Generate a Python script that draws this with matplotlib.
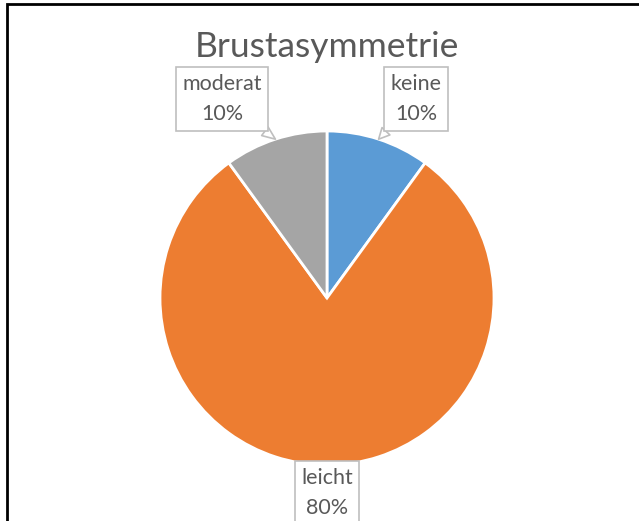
import matplotlib
matplotlib.use('Agg')
import matplotlib.pyplot as plt
import numpy as np

# data
labels = ['keine', 'leicht', 'moderat']
values = [10, 80, 10]
colors = ['#5B9BD5', '#ED7D31', '#A5A5A5']
title = 'Brustasymmetrie'

plt.rcParams['font.family'] = ['Lato', 'DejaVu Sans']

W, H = 639, 521
fig = plt.figure(figsize=(W / 100, H / 100), dpi=100)
ax = fig.add_axes([0, 0, 1, 1])

# outer frame (cut off at right and bottom like the screenshot)
fig.patches.append(plt.Rectangle((7 / W, -0.05), 1.1, (H - 4) / H + 0.05,
                                 transform=fig.transFigure, fill=False,
                                 edgecolor='black', linewidth=2))

cx, cy, r = 327, H - 298, 167
wedges, _ = ax.pie(values, colors=colors, startangle=90, counterclock=False,
                   center=(cx, cy), radius=r, frame=True,
                   wedgeprops=dict(edgecolor='white', linewidth=2))
ax.set_xlim(0, W)
ax.set_ylim(0, H)
ax.axis('off')

ax.text(cx, H - 47, title, ha='center', va='center', fontsize=25.5, color='#595959')

# label callouts: box centres (px)
label_pos = [(416, H - 99), (327, H - 493), (222, H - 99)]
total = sum(values)
for w, lab, v, (lx, ly) in zip(wedges, labels, values, label_pos):
    mid = np.deg2rad((w.theta1 + w.theta2) / 2)
    px = cx + r * np.cos(mid)
    py = cy + r * np.sin(mid)
    ax.annotate(f'{lab}\n{v / total:.0%}', xy=(px, py), xytext=(lx, ly),
                ha='center', va='center', fontsize=15.5, color='#595959',
                linespacing=1.65,
                bbox=dict(boxstyle='square,pad=0.3', fc='white', ec='#BFBFBF', lw=1.2),
                arrowprops=dict(arrowstyle='wedge,tail_width=0.5', fc='white',
                                ec='#BFBFBF', lw=1.2, shrinkA=0, shrinkB=0))

fig.savefig('out.png', dpi=100)
